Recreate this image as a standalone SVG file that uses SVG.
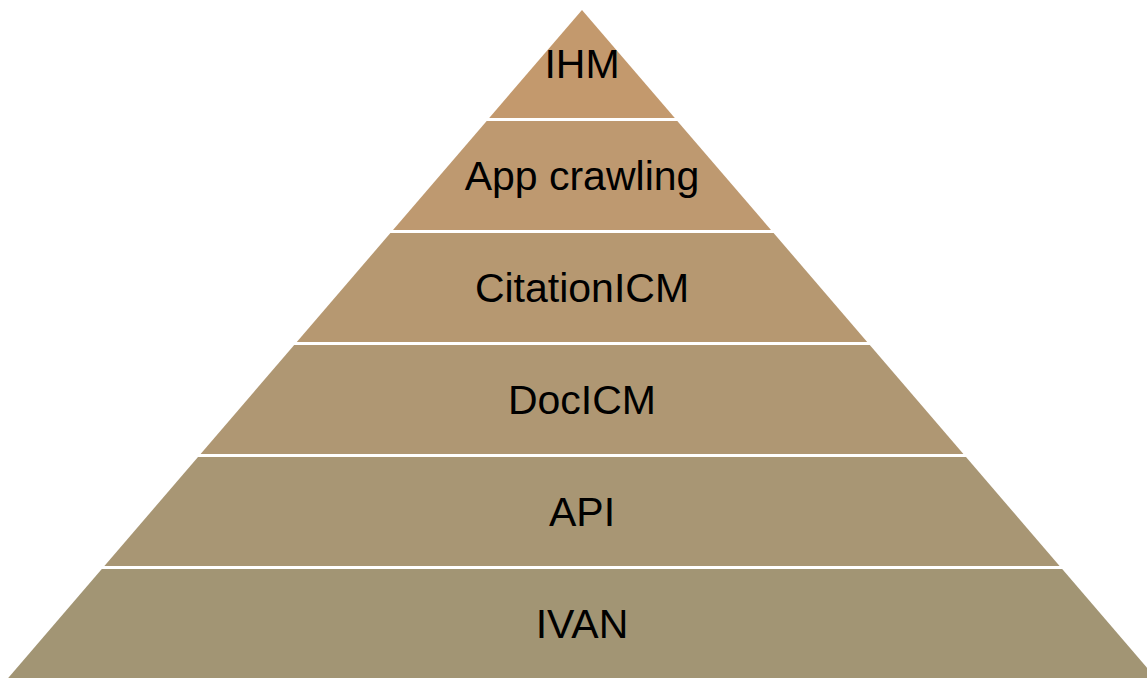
<svg xmlns="http://www.w3.org/2000/svg" width="1147" height="678" viewBox="0 0 1147 678">
<style>
.lbl{font-family:"Liberation Sans","DejaVu Sans",sans-serif;font-size:41px;fill:#000;text-anchor:middle}
</style>
<rect width="1147" height="678" fill="#fff"/>
<g id="layer-ihm"><polygon points="582,10 674.8,118 489.2,118" fill="#C3996D"/><text class="lbl" x="582" y="78">IHM</text></g>
<g id="layer-app-crawling"><polygon points="486.7,121 677.3,121 771,230 393,230" fill="#BE9970"/><text class="lbl" x="582" y="190">App crawling</text></g>
<g id="layer-citationicm"><polygon points="390.4,233 773.6,233 867.2,342 296.8,342" fill="#B69871"/><text class="lbl" x="582" y="302">CitationICM</text></g>
<g id="layer-docicm"><polygon points="294.2,345 869.8,345 963.4,454 200.6,454" fill="#AF9773"/><text class="lbl" x="582" y="414">DocICM</text></g>
<g id="layer-api"><polygon points="198,457 966,457 1059.6,566 104.4,566" fill="#A89674"/><text class="lbl" x="582" y="526">API</text></g>
<g id="layer-ivan"><polygon points="101.8,569 1062.2,569 1155.8,678 8.2,678" fill="#A29574"/><text class="lbl" x="582" y="638">IVAN</text></g>
<g id="connectors"></g>
</svg>
